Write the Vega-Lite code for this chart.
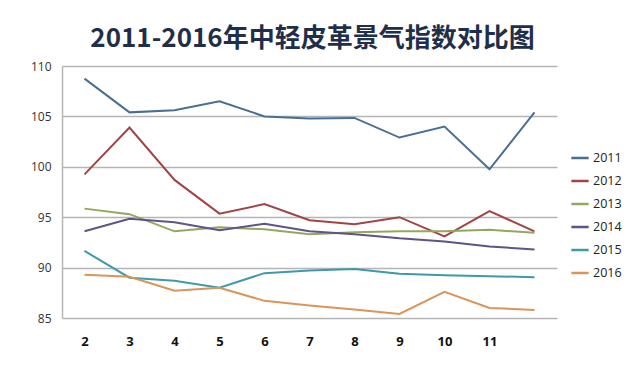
{
  "$schema": "https://vega.github.io/schema/vega-lite/v6.json",
  "width": 495,
  "height": 252,
  "autosize": {"type": "none"},
  "padding": {"left": 62, "top": 66, "right": 83, "bottom": 60},
  "background": "white",
  "title": {
    "text": "2011-2016年中轻皮革景气指数对比图",
    "font": "Noto Sans CJK SC",
    "fontSize": 26,
    "fontWeight": "bold",
    "color": "#1f2f4a",
    "anchor": "middle",
    "offset": 8,
    "dx": 3
  },
  "config": {
    "view": {"stroke": null},
    "font": "Open Sans"
  },
  "data": {
    "values": [
      {"m": 2, "year": "2011", "v": 108.75}, {"m": 3, "year": "2011", "v": 105.4}, {"m": 4, "year": "2011", "v": 105.6}, {"m": 5, "year": "2011", "v": 106.5}, {"m": 6, "year": "2011", "v": 105.0}, {"m": 7, "year": "2011", "v": 104.8}, {"m": 8, "year": "2011", "v": 104.85}, {"m": 9, "year": "2011", "v": 102.9}, {"m": 10, "year": "2011", "v": 104.0}, {"m": 11, "year": "2011", "v": 99.75}, {"m": 12, "year": "2011", "v": 105.4},
      {"m": 2, "year": "2012", "v": 99.25}, {"m": 3, "year": "2012", "v": 103.9}, {"m": 4, "year": "2012", "v": 98.7}, {"m": 5, "year": "2012", "v": 95.35}, {"m": 6, "year": "2012", "v": 96.3}, {"m": 7, "year": "2012", "v": 94.7}, {"m": 8, "year": "2012", "v": 94.3}, {"m": 9, "year": "2012", "v": 95.0}, {"m": 10, "year": "2012", "v": 93.1}, {"m": 11, "year": "2012", "v": 95.6}, {"m": 12, "year": "2012", "v": 93.6},
      {"m": 2, "year": "2013", "v": 95.85}, {"m": 3, "year": "2013", "v": 95.3}, {"m": 4, "year": "2013", "v": 93.6}, {"m": 5, "year": "2013", "v": 94.0}, {"m": 6, "year": "2013", "v": 93.8}, {"m": 7, "year": "2013", "v": 93.3}, {"m": 8, "year": "2013", "v": 93.5}, {"m": 9, "year": "2013", "v": 93.6}, {"m": 10, "year": "2013", "v": 93.6}, {"m": 11, "year": "2013", "v": 93.75}, {"m": 12, "year": "2013", "v": 93.45},
      {"m": 2, "year": "2014", "v": 93.6}, {"m": 3, "year": "2014", "v": 94.85}, {"m": 4, "year": "2014", "v": 94.5}, {"m": 5, "year": "2014", "v": 93.7}, {"m": 6, "year": "2014", "v": 94.35}, {"m": 7, "year": "2014", "v": 93.6}, {"m": 8, "year": "2014", "v": 93.3}, {"m": 9, "year": "2014", "v": 92.9}, {"m": 10, "year": "2014", "v": 92.6}, {"m": 11, "year": "2014", "v": 92.1}, {"m": 12, "year": "2014", "v": 91.8},
      {"m": 2, "year": "2015", "v": 91.65}, {"m": 3, "year": "2015", "v": 89.0}, {"m": 4, "year": "2015", "v": 88.7}, {"m": 5, "year": "2015", "v": 88.0}, {"m": 6, "year": "2015", "v": 89.45}, {"m": 7, "year": "2015", "v": 89.7}, {"m": 8, "year": "2015", "v": 89.85}, {"m": 9, "year": "2015", "v": 89.4}, {"m": 10, "year": "2015", "v": 89.25}, {"m": 11, "year": "2015", "v": 89.15}, {"m": 12, "year": "2015", "v": 89.05},
      {"m": 2, "year": "2016", "v": 89.3}, {"m": 3, "year": "2016", "v": 89.1}, {"m": 4, "year": "2016", "v": 87.7}, {"m": 5, "year": "2016", "v": 88.0}, {"m": 6, "year": "2016", "v": 86.7}, {"m": 7, "year": "2016", "v": 86.25}, {"m": 8, "year": "2016", "v": 85.85}, {"m": 9, "year": "2016", "v": 85.4}, {"m": 10, "year": "2016", "v": 87.6}, {"m": 11, "year": "2016", "v": 86.0}, {"m": 12, "year": "2016", "v": 85.8}
    ]
  },
  "mark": {"type": "line", "strokeWidth": 2},
  "encoding": {
    "x": {
      "field": "m",
      "type": "ordinal",
      "scale": {"type": "point", "padding": 0.5},
      "axis": {
        "title": null,
        "labelAngle": 0,
        "ticks": false,
        "domain": false,
        "grid": false,
        "labelFont": "Open Sans",
        "labelFontSize": 13,
        "labelFontWeight": "bold",
        "labelColor": "#111111",
        "labelPadding": 17,
        "labelExpr": "datum.value == 12 ? '' : datum.label"
      }
    },
    "y": {
      "field": "v",
      "type": "quantitative",
      "scale": {"domain": [85, 110], "zero": false, "nice": false},
      "axis": {
        "title": null,
        "values": [85, 90, 95, 100, 105, 110],
        "ticks": false,
        "domain": true,
        "domainColor": "#b5b5b5",
        "domainWidth": 1.5,
        "grid": true,
        "gridColor": "#b5b5b5",
        "gridWidth": 1.5,
        "labelFont": "Open Sans",
        "labelFontSize": 12,
        "labelColor": "#333333",
        "labelPadding": 11
      }
    },
    "color": {
      "field": "year",
      "type": "nominal",
      "scale": {
        "domain": ["2011", "2012", "2013", "2014", "2015", "2016"],
        "range": ["#4a6f93", "#a04446", "#93a85e", "#5f5387", "#3e9aaa", "#d9955a"]
      },
      "legend": {
        "title": null,
        "orient": "none",
        "legendX": 508,
        "legendY": 82,
        "symbolType": "stroke",
        "symbolSize": 300,
        "symbolStrokeWidth": 2.5,
        "labelFont": "Open Sans",
        "labelFontSize": 12.5,
        "labelColor": "#222222",
        "rowPadding": 6,
        "labelOffset": 3
      }
    }
  }
}
